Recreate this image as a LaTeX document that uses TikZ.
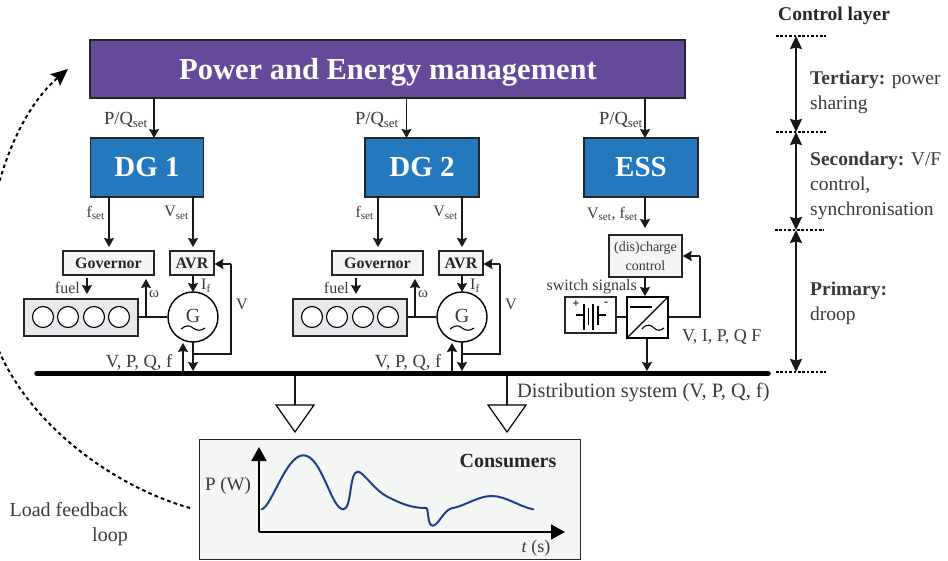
\documentclass[tikz,border=0pt]{standalone}
\usepackage{fontspec}
\setmainfont{Liberation Serif}
\usetikzlibrary{arrows.meta}
\definecolor{mgmt}{HTML}{654A9A}
\definecolor{dgblue}{HTML}{2378BE}
\definecolor{lightbox}{HTML}{F3F6F4}
\definecolor{engbox}{HTML}{E7E9ED}
\definecolor{txt}{HTML}{3A3A3A}
\definecolor{curve}{HTML}{1F3F86}
\tikzset{
  sig/.style={draw=black!90,line width=1.5pt,-{Stealth[length=9pt,width=10pt,inset=1.2pt]}},
  wire/.style={draw=black!90,line width=1.3pt},
  bigbox/.style={draw=black!85,line width=1.4pt,fill=dgblue,text=white,font=\bfseries\fontsize{29}{31}\selectfont,inner sep=0pt},
  ctrl/.style={draw=black!85,line width=1.4pt,fill=lightbox,text=black!85,font=\bfseries\fontsize{16}{18}\selectfont,inner sep=0pt},
  lab/.style={text=txt,font=\fontsize{16}{18}\selectfont,inner sep=0pt},
  biglab/.style={text=txt,font=\fontsize{18.5}{22}\selectfont,inner sep=0pt},
  sublab/.style={text=txt,font=\fontsize{19.5}{25}\selectfont,inner sep=0pt,align=left,anchor=north west},
  cyl/.style={circle,draw=black,line width=1.1pt,fill=white,minimum size=21pt,inner sep=0pt},
  gen/.style={circle,draw=black,line width=1.4pt,fill=white,minimum size=50pt,inner sep=0pt},
  level/.style={dash pattern=on 2.6pt off 1.8pt,line width=1.2pt,black},
  span/.style={line width=1.9pt,black!90,{Stealth[length=13pt,width=12pt,inset=1.5pt]}-{Stealth[length=13pt,width=12pt,inset=1.5pt]}},
  loadt/.style={draw=black,line width=1.2pt,fill=white}
}
\begin{document}
\begin{tikzpicture}[x=1pt,y=-1pt]
\useasboundingbox (0,0) rectangle (948,561);
\clip (0,0) rectangle (948,561);
% top boxes
\node[draw=black!85,line width=1.4pt,fill=mgmt,minimum width=595pt,minimum height=58pt,inner sep=0pt] (mgmt) at (387.5,69) {};
\node[text=white,font=\bfseries\fontsize{30.5}{32}\selectfont,inner sep=0pt] (mgmtt) at (388,72) {Power and Energy management};
\node[bigbox,minimum width=113pt,minimum height=59pt] (dg1) at (147,167.5) {DG 1};
\node[bigbox,minimum width=114pt,minimum height=59pt] (dg2) at (422,167.5) {DG 2};
\node[bigbox,minimum width=114pt,minimum height=59pt] (ess) at (641,167.5) {ESS};
\coordinate (m1) at (154,98); \coordinate (d1) at (154,138);
\coordinate (m2) at (406.5,98); \coordinate (d2) at (406.5,138);
\coordinate (m3) at (645,98); \coordinate (d3) at (645,138);
\draw[sig] (m1) -- (d1);
\draw[sig] (m2) -- (d2);
\draw[sig] (m3) -- (d3);
\node[biglab,anchor=east] (pq1) at (148,120) {P/Q\textsubscript{set}};
\node[biglab,anchor=east] (pq2) at (399,120) {P/Q\textsubscript{set}};
\node[biglab,anchor=east] (pq3) at (643,120) {P/Q\textsubscript{set}};
% bus
\coordinate (busL) at (37,373.5); \coordinate (busR) at (768,373.5);
% DG units
\foreach \o/\n/\tg in {0/a/dg1,269/b/dg2}{
\begin{scope}[xshift=\o pt]
\node[ctrl,minimum width=91pt,minimum height=24pt] (gov\n) at (108.5,263) {Governor};
\node[ctrl,minimum width=44pt,minimum height=24pt] (avr\n) at (192,263) {AVR};
\node[draw=black!85,line width=1.4pt,fill=engbox,minimum width=114pt,minimum height=37pt] (eng\n) at (81,317.5) {};
\node[cyl] (c1\n) at (43,317) {};
\node[cyl] (c2\n) at (68,317) {};
\node[cyl] (c3\n) at (94,317) {};
\node[cyl] (c4\n) at (119,317) {};
\node[gen] (g\n) at (193,317) {};
\node[text=txt,font=\fontsize{20}{22}\selectfont,inner sep=0pt] (gt\n) at (193,316) {G};
\draw[line width=1.1pt] (181,329) .. controls (186,325) and (190,325) .. (193,328) .. controls (197,331) and (201,331) .. (205,328);
\coordinate (fs\n) at (109,197); \coordinate (fe\n) at (109,247);
\coordinate (vs\n) at (193,197); \coordinate (ve\n) at (193,247);
\draw[sig] (fs\n) -- (fe\n);
\draw[sig] (vs\n) -- (ve\n);
\node[lab,anchor=east] (fl\n) at (105,213) {f\textsubscript{set}};
\node[lab,anchor=east] (vl\n) at (189,213) {V\textsubscript{set}};
\coordinate (fu\n) at (87,278); \coordinate (fv\n) at (87,294);
\draw[sig] (fu\n) -- (fv\n);
\node[lab,anchor=east] (ft\n) at (80,288) {fuel};
\draw[wire] (eng\n.east |- g\n) -- (g\n.west);
\coordinate (ws\n) at (146,317); \coordinate (we\n) at (146,279);
\draw[sig] (ws\n) -- (we\n);
\node[lab,font=\fontsize{15}{17}\selectfont] (om\n) at (154,294) {ω};
\coordinate (af\n) at (193,275); \coordinate (ag\n) at (193,292);
\draw[sig] (af\n) -- (ag\n);
\node[lab,anchor=west] (if\n) at (201,286) {I\textsubscript{f}};
\coordinate (gb\n) at (193,342); \coordinate (bb\n) at (193,371);
\draw[sig] (gb\n) -- (bb\n);
\coordinate (fb\n) at (193,354); \coordinate (fc\n) at (231,354); \coordinate (fd\n) at (231,264); \coordinate (fa\n) at (214.5,264);
\draw[wire] (fb\n) -- (fc\n) -- (fd\n);
\draw[sig] (fd\n) -- (fa\n);
\node[lab] (vv\n) at (242,304) {V};
\coordinate (us\n) at (183,371); \coordinate (ue\n) at (183,343);
\draw[sig] (us\n) -- (ue\n);
\node[biglab,anchor=east] (vp\n) at (172.5,362) {V, P, Q, f};
\end{scope}}
% ESS chain
\coordinate (es) at (645,197); \coordinate (ee) at (645,228);
\draw[sig] (es) -- (ee);
\node[lab,anchor=east] (vf) at (638,214) {V\textsubscript{set}, f\textsubscript{set}};
\node[draw=black!85,line width=1.4pt,fill=lightbox,text=txt,font=\fontsize{14}{19}\selectfont,minimum width=73pt,minimum height=42pt,inner sep=0pt,align=center] (dis) at (645.5,256) {(dis)charge\\control};
\node[draw=black,line width=1.6pt,fill=white,minimum width=41pt,minimum height=41pt,inner sep=0pt] (conv) at (647.5,317.5) {};
\node[draw=black!85,line width=1.1pt,fill=white,minimum width=51pt,minimum height=36pt,inner sep=0pt] (bat) at (590.5,315) {};
\draw[sig] (645,277) -- (645,296);
\node[lab,anchor=east] (ss) at (637,287) {switch signals};
\draw[line width=1.4pt] (conv.south west) -- (conv.north east);
\draw[line width=1.4pt] (630,307) -- (652,307);
\draw[line width=1.1pt] (642,329) .. controls (647,323) and (651,325) .. (654,328) .. controls (657,331) and (661,331) .. (664,328);
\draw[wire] (bat.east |- 0,317) -- (conv.west |- 0,317);
\coordinate (cr) at (700,317); \coordinate (cu) at (700,256);
\draw[wire] (conv.east |- cr) -- (cr) -- (cu);
\draw[sig] (cu) -- (dis.east |- cu);
\node[biglab,font=\fontsize{18}{20}\selectfont,anchor=west] (vi) at (682,337) {V, I, P, Q F};
\draw[sig] (647,338) -- (647,371);
% battery symbol
\draw[line width=1.1pt] (576,315) -- (584,315) (598,315) -- (606,315);
\draw[line width=1.1pt] (584,304) -- (584,330) (593,304) -- (593,330);
\draw[line width=1.8pt] (588.5,308) -- (588.5,325) (598,306) -- (598,325);
\node[font=\bfseries\fontsize{12}{12}\selectfont,inner sep=0pt] (bp) at (576,304) {+};
\node[font=\bfseries\fontsize{12}{12}\selectfont,inner sep=0pt] (bm) at (606,304) {-};
% loads
\coordinate (l1) at (295,373); \coordinate (l1e) at (295,405);
\coordinate (l2) at (507,373); \coordinate (l2e) at (507,405);
\draw[wire] (l1) -- (l1e);
\draw[wire] (l2) -- (l2e);
\draw[loadt] (276,405) -- (314,405) -- (295,432) -- cycle;
\draw[loadt] (488,405) -- (526,405) -- (507,432) -- cycle;
\draw[line width=5.5pt,line cap=round] (busL) -- (busR);
\node[biglab,font=\fontsize{20.4}{22}\selectfont,anchor=west] (ds) at (517,393) {Distribution system (V, P, Q, f)};
% consumers
\node[draw=black!85,line width=1pt,fill=lightbox,minimum width=381pt,minimum height=120pt,inner sep=0pt] (cons) at (389.5,499) {};
\draw[line width=1.7pt,-{Triangle[length=14pt,width=15pt]}] (259,532) -- (259,447);
\draw[line width=1.7pt,-{Triangle[length=14pt,width=15pt]}] (259,532) -- (565,532);
\draw[curve,line width=2pt,line cap=round] (261.7,509.3) .. controls (272,506) and (286,455.3) .. (303.3,455.3)
 .. controls (322,455.3) and (331,509.3) .. (343.3,509.3)
 .. controls (352,509.3) and (349,471.7) .. (357.7,471.7)
 .. controls (364,471.7) and (374,491) .. (390,498)
 .. controls (402,504) and (412,508) .. (426,508)
 .. controls (429,508) and (427,525.7) .. (432.7,525.7)
 .. controls (438,525.7) and (444,510) .. (451.7,508.3)
 .. controls (465,506) and (478,496) .. (491.7,496)
 .. controls (506,496) and (520,507) .. (533.3,509.3);
\node[text=black!85,font=\bfseries\fontsize{20}{22}\selectfont,inner sep=0pt] (ct) at (508,461) {Consumers};
\node[biglab,font=\fontsize{19}{21}\selectfont] (pw) at (228,486) {P (W)};
\node[biglab,font=\fontsize{18}{20}\selectfont] (ts) at (536,548) {\textit{t} (s)};
% load feedback
\node[sublab,font=\fontsize{20}{25}\selectfont,align=right,anchor=north east] (lf) at (128,502) {Load feedback\\loop};
\coordinate (ls) at (190,508); \coordinate (la) at (68,69);
\draw[dash pattern=on 3.6pt off 3.2pt,line width=2pt,-{Stealth[length=17pt,width=15pt,inset=3pt]}] (ls) .. controls (90,480) and (-30,380) .. (-15,260) .. controls (-8,180) and (20,110) .. (la);
% control layer
\node[text=black!85,font=\bfseries\fontsize{19.5}{21}\selectfont,inner sep=0pt,anchor=west] (cl) at (778,16) {Control layer};
\coordinate (a0) at (796,36); \coordinate (a1) at (796,132); \coordinate (a2) at (796,230); \coordinate (a3) at (796,372);
\draw[level] (776,36) -- (826,36);
\draw[level] (776,132) -- (826,132);
\draw[level] (775,230) -- (824,230);
\draw[level] (776,372) -- (826,372);
\draw[span] (a0) -- (a1);
\draw[span] (a1) -- (a2);
\draw[span] (a2) -- (a3);
\node[sublab] (t1) at (810,71) {\textbf{Tertiary:} power\\sharing};
\node[sublab] (t2) at (810,151.5) {\textbf{Secondary:} V/F\\control,\\synchronisation};
\node[sublab] (t3) at (810,282) {\textbf{Primary:}\\droop};
\end{tikzpicture}
\end{document}
